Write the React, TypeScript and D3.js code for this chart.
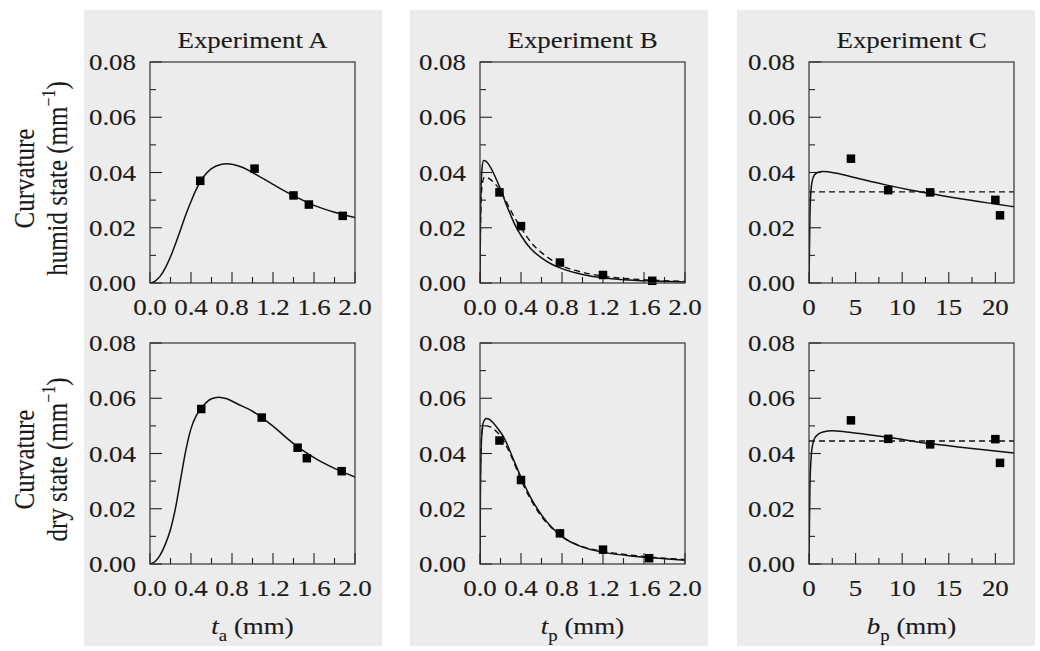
import React from "react";
import * as d3 from "d3";

// ---------- data ----------
const yTicksMajor = [0, 0.02, 0.04, 0.06, 0.08];
const yTicksMinor = [0.01, 0.03, 0.05, 0.07];
const xTicksAB = [0, 0.4, 0.8, 1.2, 1.6, 2.0];
const xTicksABMinor = [0.2, 0.6, 1.0, 1.4, 1.8];
const xTicksC = [0, 5, 10, 15, 20];
const xTicksCMinor = [2.5, 7.5, 12.5, 17.5];

const titles = ["Experiment A", "Experiment B", "Experiment C"];
const rowLabels = ["humid state", "dry state"];

// Experiment A
const aHumidPtsX = [0.49, 1.02, 1.4, 1.55, 1.88];
const aHumidPtsY = [0.037, 0.0414, 0.0317, 0.0284, 0.0243];
const aHumidFit: [number, number][] = [
  [0, 0], [0.05, 0.0007], [0.1, 0.0025], [0.15, 0.0055], [0.2, 0.0095], [0.25, 0.0143],
  [0.3, 0.0195], [0.35, 0.0248], [0.4, 0.0295], [0.45, 0.0338], [0.5, 0.0372], [0.55, 0.0397],
  [0.6, 0.0414], [0.7, 0.043], [0.75, 0.0432], [0.8, 0.043], [0.9, 0.0419], [1.0, 0.04],
  [1.2, 0.0357], [1.4, 0.0316], [1.6, 0.0281], [1.8, 0.0256], [2.0, 0.0237],
];
const aDryPtsX = [0.5, 1.09, 1.44, 1.53, 1.87];
const aDryPtsY = [0.0561, 0.053, 0.0421, 0.0383, 0.0336];
const aDryFit: [number, number][] = [
  [0, 0], [0.05, 0.0009], [0.1, 0.0033], [0.15, 0.0072], [0.2, 0.0125], [0.25, 0.0205],
  [0.3, 0.031], [0.35, 0.0412], [0.4, 0.049], [0.45, 0.0536], [0.5, 0.0563], [0.55, 0.0585],
  [0.6, 0.0598], [0.67, 0.0604], [0.75, 0.0598], [0.85, 0.058], [1.0, 0.0553], [1.1, 0.0528],
  [1.2, 0.0499], [1.4, 0.0436], [1.6, 0.0385], [1.8, 0.0346], [2.0, 0.0315],
];

// Experiment B
const bHumidPtsX = [0.19, 0.4, 0.78, 1.2, 1.68];
const bHumidPtsY = [0.0328, 0.0206, 0.0074, 0.0029, 0.0008];
const bHumidFit: [number, number][] = [
  [0, 0], [0.004, 0.02], [0.01, 0.034], [0.02, 0.0415], [0.035, 0.0443], [0.06, 0.044],
  [0.1, 0.042], [0.15, 0.0383], [0.2, 0.034], [0.25, 0.029], [0.3, 0.0245], [0.35, 0.0204],
  [0.4, 0.0172], [0.5, 0.0122], [0.6, 0.0091], [0.7, 0.0068], [0.8, 0.0052], [1.0, 0.0031],
  [1.2, 0.0019], [1.4, 0.0012], [1.7, 0.0007], [2.0, 0.0004],
];
const bHumidModel: [number, number][] = [
  [0, 0], [0.005, 0.02], [0.012, 0.031], [0.025, 0.0365], [0.045, 0.0383], [0.07, 0.0382],
  [0.1, 0.0375], [0.15, 0.0358], [0.2, 0.0333], [0.25, 0.0299], [0.3, 0.0262], [0.4, 0.02],
  [0.5, 0.0146], [0.6, 0.011], [0.7, 0.0083], [0.8, 0.0062], [1.0, 0.0039], [1.2, 0.0025],
  [1.5, 0.0014], [2.0, 0.0006],
];
const bDryPtsX = [0.19, 0.4, 0.78, 1.2, 1.65];
const bDryPtsY = [0.0447, 0.0304, 0.0111, 0.0052, 0.0021];
const bDryFit: [number, number][] = [
  [0, 0], [0.004, 0.025], [0.01, 0.04], [0.02, 0.048], [0.035, 0.0515], [0.06, 0.0527],
  [0.09, 0.0524], [0.13, 0.051], [0.18, 0.0487], [0.23, 0.046], [0.28, 0.042], [0.33, 0.0375],
  [0.4, 0.0314], [0.5, 0.0237], [0.6, 0.0178], [0.7, 0.0133], [0.8, 0.0099], [1.0, 0.0061],
  [1.2, 0.0043], [1.5, 0.0028], [1.8, 0.0019], [2.0, 0.0014],
];
const bDryModel: [number, number][] = [
  [0, 0], [0.004, 0.03], [0.01, 0.043], [0.02, 0.048], [0.035, 0.0498], [0.06, 0.05],
  [0.1, 0.0496], [0.15, 0.0483], [0.2, 0.0463], [0.25, 0.0432], [0.3, 0.0395], [0.35, 0.035],
  [0.4, 0.0305], [0.5, 0.023], [0.6, 0.0172], [0.7, 0.013], [0.8, 0.0099], [1.0, 0.0063],
  [1.2, 0.0046], [1.5, 0.0031], [1.8, 0.0021], [2.0, 0.0016],
];

// Experiment C
const cHumidPtsX = [4.5, 8.5, 13, 20, 20.5];
const cHumidPtsY = [0.045, 0.0336, 0.0328, 0.0301, 0.0245];
const cHumidFit: [number, number][] = [
  [0, 0], [0.05, 0.012], [0.1, 0.024], [0.2, 0.033], [0.35, 0.037], [0.6, 0.0392], [1.0, 0.0401],
  [1.5, 0.0404], [2.0, 0.0403], [3, 0.0397], [5, 0.0381], [8, 0.0357], [11, 0.0336], [14, 0.0318],
  [17, 0.0301], [20, 0.0286], [22, 0.0276],
];
const cHumidModel: [number, number][] = [[0, 0.033], [22, 0.033]];
const cDryPtsX = [4.5, 8.5, 13, 20, 20.5];
const cDryPtsY = [0.052, 0.0453, 0.0433, 0.0452, 0.0366];
const cDryFit: [number, number][] = [
  [0, 0], [0.05, 0.015], [0.1, 0.028], [0.2, 0.037], [0.35, 0.0425], [0.6, 0.0455], [1.0, 0.047],
  [1.5, 0.0478], [2.5, 0.0482], [4, 0.0478], [6, 0.047], [9, 0.0456], [12, 0.044], [15, 0.0428],
  [18, 0.0416], [22, 0.0402],
];
const cDryModel: [number, number][] = [[0, 0.0445], [22, 0.0445]];

// ---------- layout ----------
const W = 1040, H = 651;
const FONT = "'Liberation Serif', 'Times New Roman', serif";
const SX = 1.17; // horizontal stretch of type
const TXT = "#1a1a1a";
const grayX = [84, 410, 737];
const grayW = 298;
const plotX0 = [150, 480, 809];
const plotW = 205;
const rowY0 = [62, 343];
const plotH = 221;
const TICK_FS = 23;

type PanelDef = {
  xDomain: [number, number];
  xMajor: number[];
  xMinor: number[];
  xFmt: (v: number) => string;
  ptsX: number[];
  ptsY: number[];
  fit: [number, number][];
  model?: [number, number][];
};

const fmt1 = d3.format(".1f");
const fmtD = d3.format("d");
const fmtY = d3.format(".2f");

const panels: PanelDef[][] = [
  [
    { xDomain: [0, 2], xMajor: xTicksAB, xMinor: xTicksABMinor, xFmt: fmt1, ptsX: aHumidPtsX, ptsY: aHumidPtsY, fit: aHumidFit },
    { xDomain: [0, 2], xMajor: xTicksAB, xMinor: xTicksABMinor, xFmt: fmt1, ptsX: bHumidPtsX, ptsY: bHumidPtsY, fit: bHumidFit, model: bHumidModel },
    { xDomain: [0, 22], xMajor: xTicksC, xMinor: xTicksCMinor, xFmt: fmtD, ptsX: cHumidPtsX, ptsY: cHumidPtsY, fit: cHumidFit, model: cHumidModel },
  ],
  [
    { xDomain: [0, 2], xMajor: xTicksAB, xMinor: xTicksABMinor, xFmt: fmt1, ptsX: aDryPtsX, ptsY: aDryPtsY, fit: aDryFit },
    { xDomain: [0, 2], xMajor: xTicksAB, xMinor: xTicksABMinor, xFmt: fmt1, ptsX: bDryPtsX, ptsY: bDryPtsY, fit: bDryFit, model: bDryModel },
    { xDomain: [0, 22], xMajor: xTicksC, xMinor: xTicksCMinor, xFmt: fmtD, ptsX: cDryPtsX, ptsY: cDryPtsY, fit: cDryFit, model: cDryModel },
  ],
];

const xTitles: [string, string][] = [["t", "a"], ["t", "p"], ["b", "p"]];

function T(props: { x: number; y: number; anchor?: string; size: number; rotate?: boolean; children: React.ReactNode }) {
  const { x, y, anchor = "middle", size, rotate, children } = props;
  const tr = `translate(${x},${y}) scale(${SX},1)` + (rotate ? " rotate(-90)" : "");
  return (
    <text transform={tr} textAnchor={anchor} fontSize={size} fontFamily={FONT} fill={TXT}
      stroke={TXT} strokeWidth={0.12}>
      {children}
    </text>
  );
}

function Panel({ def, col, row }: { def: PanelDef; col: number; row: number }) {
  const x0 = plotX0[col];
  const y0 = rowY0[row];
  const x = d3.scaleLinear().domain(def.xDomain).range([x0, x0 + plotW]);
  const y = d3.scaleLinear().domain([0, 0.08]).range([y0 + plotH, y0]);
  const line = d3.line<[number, number]>().x((d) => x(d[0])).y((d) => y(d[1])).curve(d3.curveMonotoneX);
  const yb = y0 + plotH;
  const sq = 8.5;
  return (
    <g>
      <defs>
        <clipPath id={`clip-${row}-${col}`}>
          <rect x={x0} y={y0} width={plotW} height={plotH} />
        </clipPath>
      </defs>
      {yTicksMajor.map((v) => (
        <g key={"ym" + v}>
          <line x1={x0} x2={x0 + 12} y1={y(v)} y2={y(v)} stroke="#222" strokeWidth={1.1} />
          <T x={x0 - 14} y={y(v) + 8} anchor="end" size={TICK_FS}>{fmtY(v)}</T>
        </g>
      ))}
      {yTicksMinor.map((v) => (
        <line key={"yn" + v} x1={x0} x2={x0 + 6} y1={y(v)} y2={y(v)} stroke="#222" strokeWidth={1.1} />
      ))}
      {def.xMajor.map((v) => (
        <g key={"xm" + v}>
          <line x1={x(v)} x2={x(v)} y1={yb} y2={yb - 11} stroke="#222" strokeWidth={1.1} />
          <T x={x(v)} y={yb + 32} size={TICK_FS}>{def.xFmt(v)}</T>
        </g>
      ))}
      {def.xMinor.map((v) => (
        <line key={"xn" + v} x1={x(v)} x2={x(v)} y1={yb} y2={yb - 6} stroke="#222" strokeWidth={1.1} />
      ))}
      <g clipPath={`url(#clip-${row}-${col})`}>
        {def.model && (
          <path d={line(def.model) || ""} fill="none" stroke="#111" strokeWidth={1.4} strokeDasharray="6,4" />
        )}
        <path d={line(def.fit) || ""} fill="none" stroke="#111" strokeWidth={1.5} />
      </g>
      {def.ptsX.map((px, i) => (
        <rect key={"p" + i} x={x(px) - sq / 2} y={y(def.ptsY[i]) - sq / 2} width={sq} height={sq} fill="#000" />
      ))}
      <rect x={x0} y={y0} width={plotW} height={plotH} fill="none" stroke="#333" strokeWidth={1.2} />
    </g>
  );
}

export default function App() {
  return (
    <svg width={W} height={H} style={{ position: "absolute", left: 0, top: 0, background: "#fff" }}>
      {grayX.map((gx, i) => (
        <rect key={"g" + i} x={gx} y={10} width={grayW} height={636} fill="#ececec" />
      ))}
      {titles.map((t, c) => (
        <T key={"t" + c} x={plotX0[c] + plotW / 2} y={48} size={23}>{t}</T>
      ))}
      {panels.map((rowDefs, r) => rowDefs.map((def, c) => <Panel key={r + "-" + c} def={def} col={c} row={r} />))}
      {rowLabels.map((lab, r) => {
        const cy = rowY0[r] + plotH / 2 + 6;
        return (
          <g key={"yl" + r}>
            <T x={34} y={cy} size={25} rotate>Curvature</T>
            <T x={67} y={cy} size={25} rotate>
              {lab} (mm<tspan fontSize={16} dy={-10}>−1</tspan><tspan dy={10}>)</tspan>
            </T>
          </g>
        );
      })}
      {xTitles.map((xt, c) => (
        <T key={"xt" + c} x={plotX0[c] + plotW / 2} y={634} size={23}>
          <tspan fontStyle="italic">{xt[0]}</tspan>
          <tspan fontSize={16} dy={7}>{xt[1]}</tspan>
          <tspan dy={-7}> (mm)</tspan>
        </T>
      ))}
    </svg>
  );
}
